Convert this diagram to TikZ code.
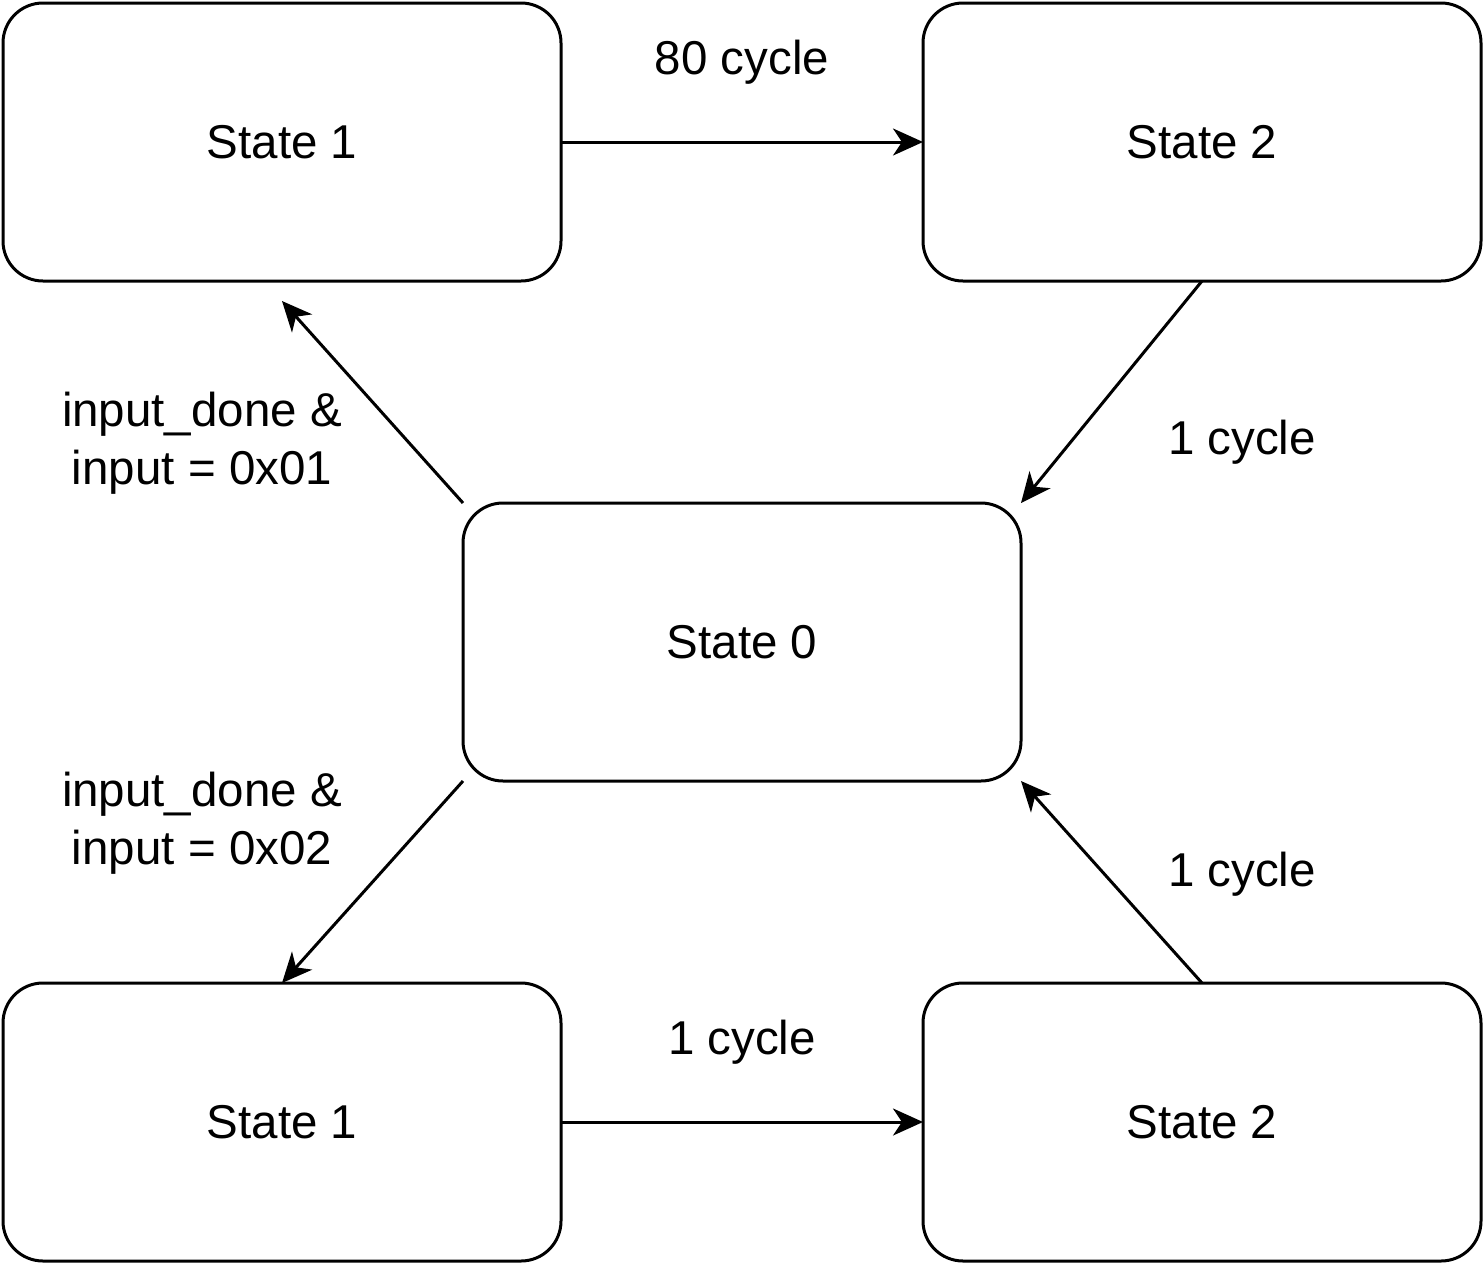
\documentclass[tikz,border=0pt]{standalone}
\usepackage{fontspec}
\setmainfont{Liberation Sans}
\usetikzlibrary{arrows.meta,calc}
\begin{document}
\begin{tikzpicture}[x=1pt,y=-1pt,
  statebox/.style={draw=black,line width=3pt,rounded corners=40pt,minimum width=558pt,minimum height=278pt,inner sep=0pt,outer sep=0pt,fill=white,font=\fontsize{47.5}{56}\selectfont},
  lbl/.style={align=center,font=\fontsize{47.5}{58}\selectfont,inner sep=0pt},
  arr/.style={line width=3pt,-{Stealth[length=30pt,width=27pt,inset=9pt]}}]
\useasboundingbox (0,0) rectangle (1484,1264);
\node[statebox] (s1) at (282,142) {State 1};
\node[statebox] (s2) at (1202,142) {State 2};
\node[statebox] (s0) at (742,642) {State 0};
\node[statebox] (s3) at (282,1122) {State 1};
\node[statebox] (s4) at (1202,1122) {State 2};
\coordinate (t1) at ($(s1.south)+(0,20)$);
\draw[arr] (s1.east) -- (s2.west);
\draw[arr] (s2.south) -- (s0.north east);
\draw[arr] (s0.north west) -- (t1);
\draw[arr] (s0.south west) -- (s3.north);
\draw[arr] (s3.east) -- (s4.west);
\draw[arr] (s4.north) -- (s0.south east);
\node[lbl] (l1) at (742,62) {80 cycle};
\node[lbl] (l2) at (1242,442) {1 cycle};
\node[lbl] (l3) at (202,443) {input\_done \&\\input = 0x01};
\node[lbl] (l4) at (202,823) {input\_done \&\\input = 0x02};
\node[lbl] (l5) at (742,1042) {1 cycle};
\node[lbl] (l6) at (1242,874) {1 cycle};
\end{tikzpicture}
\end{document}
